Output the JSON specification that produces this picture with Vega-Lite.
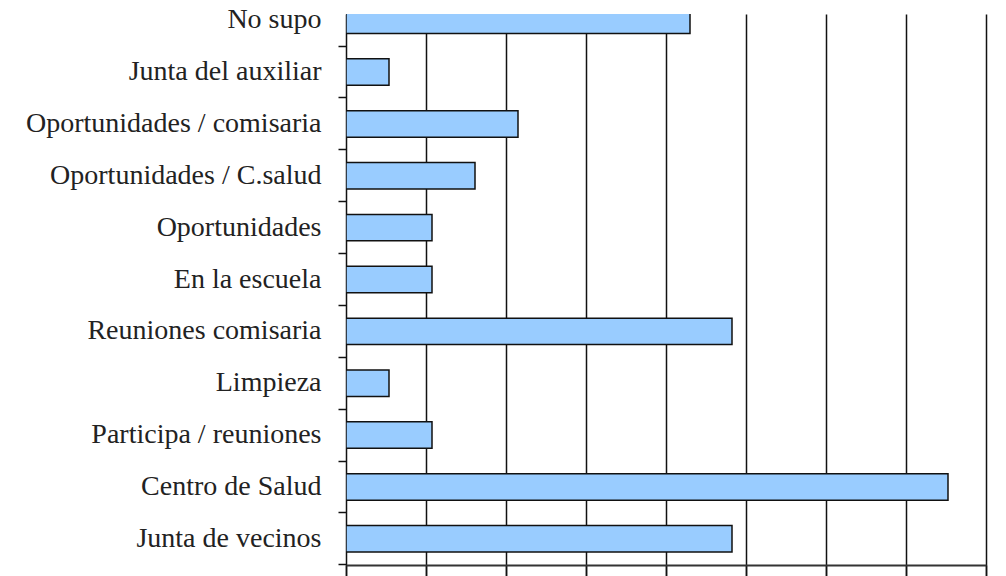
{
  "$schema": "https://vega.github.io/schema/vega-lite/v6.json",
  "width": 640,
  "height": 551,
  "autosize": {"type": "none"},
  "padding": {"left": 346, "top": 14, "right": 20, "bottom": 11},
  "background": "white",
  "config": {"view": {"stroke": null}},
  "data": {
    "values": [
      {"respuesta": "No supo", "porcentaje": 17.2},
      {"respuesta": "Junta del auxiliar", "porcentaje": 2.15},
      {"respuesta": "Oportunidades / comisaria", "porcentaje": 8.6},
      {"respuesta": "Oportunidades / C.salud", "porcentaje": 6.45},
      {"respuesta": "Oportunidades", "porcentaje": 4.3},
      {"respuesta": "En la escuela", "porcentaje": 4.3},
      {"respuesta": "Reuniones comisaria", "porcentaje": 19.3},
      {"respuesta": "Limpieza", "porcentaje": 2.15},
      {"respuesta": "Participa / reuniones", "porcentaje": 4.3},
      {"respuesta": "Centro de Salud", "porcentaje": 30.1},
      {"respuesta": "Junta de vecinos", "porcentaje": 19.3}
    ]
  },
  "mark": {"type": "bar", "fill": "#99CCFF", "stroke": "#111111", "strokeWidth": 1.5, "clip": true},
  "encoding": {
    "y": {
      "field": "respuesta",
      "type": "nominal",
      "sort": null,
      "scale": {"range": [-20, 551], "paddingInner": 0.49, "paddingOuter": 0.25},
      "axis": {
        "title": null,
        "domain": false,
        "grid": false,
        "ticks": true,
        "bandPosition": 1.48,
        "tickSize": 8,
        "tickColor": "#111111",
        "tickWidth": 1.5,
        "labelFont": "Liberation Serif",
        "labelFontSize": 28,
        "labelColor": "#222222",
        "labelPadding": 17,
        "labelLimit": 400
      }
    },
    "x": {
      "field": "porcentaje",
      "type": "quantitative",
      "scale": {"domain": [0, 32], "nice": false},
      "axis": {
        "title": null,
        "labels": false,
        "values": [0, 4, 8, 12, 16, 20, 24, 28, 32],
        "grid": true,
        "gridColor": "#111111",
        "gridWidth": 1.5,
        "gridOpacity": 1,
        "tickSize": 11,
        "tickColor": "#111111",
        "tickWidth": 1.5,
        "domainColor": "#333333",
        "domainWidth": 2
      }
    }
  }
}
